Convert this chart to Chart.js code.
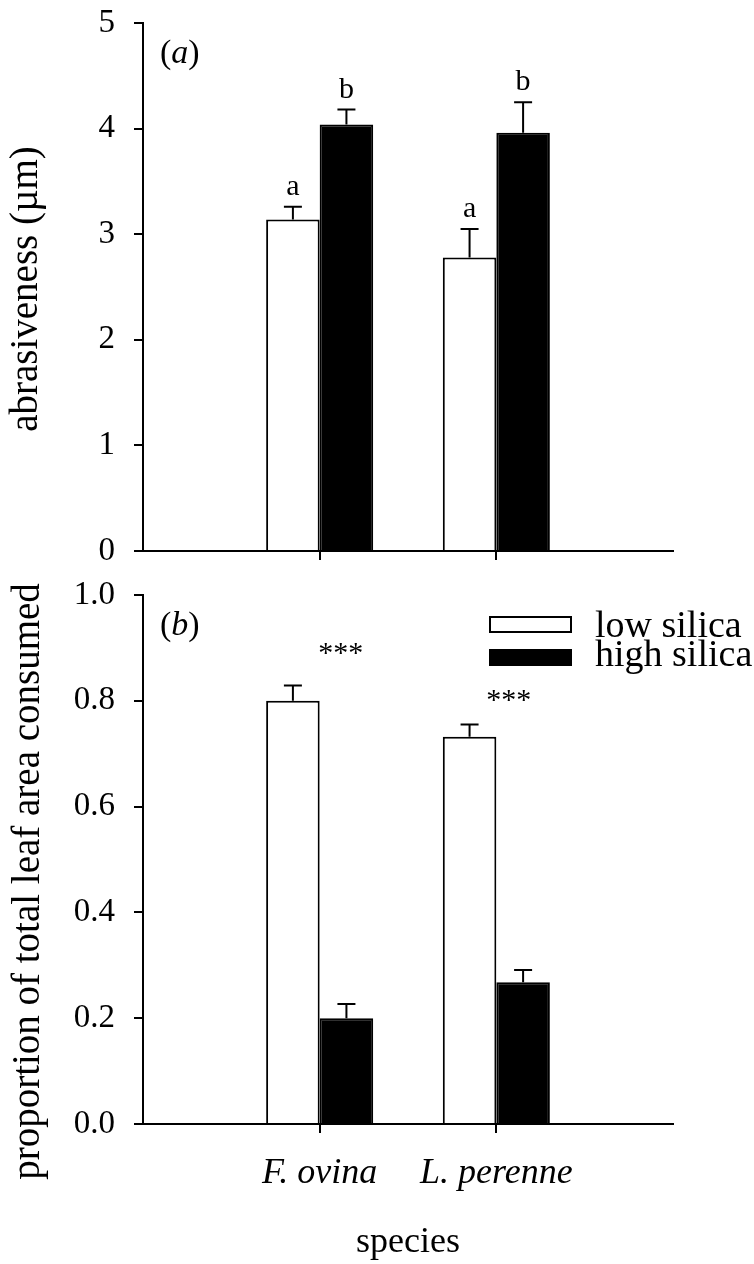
<!DOCTYPE html>
<html>
<head>
<meta charset="utf-8">
<script src="https://cdn.jsdelivr.net/npm/chart.js@4.4.0/dist/chart.umd.min.js"></script>
<style>
  html, body { margin: 0; padding: 0; background: #fff; }
  #wrap { position: relative; width: 754px; height: 1264px; overflow: hidden; }
  canvas { position: absolute; left: 0; }
  #top-chart { top: 0; }
  #bottom-chart { top: 570px; }
</style>
</head>
<body>
<div id="wrap">
  <canvas id="top-chart" width="754" height="580"></canvas>
  <canvas id="bottom-chart" width="754" height="694"></canvas>
</div>
<script>
// empty slots at both ends give the wide margins left and right of the two groups
const species = ['', 'F. ovina', 'L. perenne', ''];
const seriesNames = ['low silica', 'high silica'];

// panel (a) abrasiveness
const abrasLow = [null, 3.14, 2.78, null];
const abrasHigh = [null, 4.04, 3.96, null];
const abrasLowErr = [null, 0.12, 0.27, null];
const abrasHighErr = [null, 0.14, 0.29, null];
const abrasLowLetters = [null, 'a', 'a', null];
const abrasHighLetters = [null, 'b', 'b', null];

// panel (b) proportion consumed
const consumedLow = [null, 0.80, 0.732, null];
const consumedHigh = [null, 0.20, 0.268, null];
const consumedLowErr = [null, 0.029, 0.023, null];
const consumedHighErr = [null, 0.027, 0.023, null];
const starText = ['***', '***'];
const starX = [1.12, 2.07];   // in category units
const starY = [0.874, 0.784];

const SERIF = '"Liberation Serif", "Times New Roman", serif';
Chart.defaults.font.family = SERIF;
Chart.defaults.color = '#000';

/**
 * error bars (upper only) plus the letters over them
 */
const errorBars = {
  id: 'errorBars',
  afterDatasetsDraw(chart) {
    const ctx = chart.ctx;
    const y = chart.scales.y;
    ctx.save();
    ctx.strokeStyle = '#000';
    ctx.fillStyle = '#000';
    ctx.lineWidth = 2;
    ctx.textAlign = 'center';
    ctx.textBaseline = 'alphabetic';
    ctx.font = '30px ' + SERIF;
    chart.data.datasets.forEach((ds, i) => {
      chart.getDatasetMeta(i).data.forEach((bar, j) => {
        const v = ds.data[j];
        if (v == null) return;
        const top = y.getPixelForValue(v + ds.errors[j]);
        ctx.beginPath();
        ctx.moveTo(bar.x, y.getPixelForValue(v));
        ctx.lineTo(bar.x, top);
        ctx.moveTo(bar.x - 9, top);
        ctx.lineTo(bar.x + 9, top);
        ctx.stroke();
        if (ds.letters && ds.letters[j]) {
          ctx.fillText(ds.letters[j], bar.x, top - 12);
        }
      });
    });
    ctx.restore();
  }
};

// "(a)" / "(b)" with the letter in italics, and the rotated y title
const panelLabel = {
  id: 'panelLabel',
  afterDraw(chart, args, opts) {
    const ctx = chart.ctx;
    const area = chart.chartArea;
    let x = area.left + 17;
    const y = area.top + 40;
    ctx.save();
    ctx.fillStyle = '#000';
    ctx.textBaseline = 'alphabetic';
    ctx.textAlign = 'left';
    const parts = [['(', ''], [opts.letter, 'italic '], [')', '']];
    parts.forEach(([t, style]) => {
      ctx.font = style + '34px ' + SERIF;
      ctx.fillText(t, x, y);
      x += ctx.measureText(t).width;
    });

    // y title: not quite centred on the axis in the original
    ctx.translate(opts.titleX, (area.top + area.bottom) / 2 + opts.titleShift);
    ctx.rotate(-Math.PI / 2);
    ctx.font = '39px ' + SERIF;
    ctx.textAlign = 'center';
    ctx.textBaseline = 'middle';
    ctx.fillText(opts.title, 0, 0);
    ctx.restore();
  }
};

// legend inside the plot area, plus the *** marks
const boxLegend = {
  id: 'boxLegend',
  afterDraw(chart) {
    const ctx = chart.ctx;
    const area = chart.chartArea;
    const x0 = area.right - 183;
    ctx.save();
    chart.data.datasets.forEach((ds, i) => {
      const by = area.top + 22 + i * 33;
      ctx.fillStyle = ds.backgroundColor;
      ctx.fillRect(x0, by, 81, 15);
      ctx.strokeStyle = '#000';
      ctx.lineWidth = 2;
      ctx.strokeRect(x0, by, 81, 15);
      ctx.fillStyle = '#000';
      ctx.font = '38px ' + SERIF;
      ctx.textAlign = 'left';
      ctx.textBaseline = 'alphabetic';
      ctx.fillText(ds.label, x0 + 105, area.top + 42 + i * 29);
    });
    const xs = chart.scales.x, ys = chart.scales.y;
    ctx.font = '30px ' + SERIF;
    ctx.textAlign = 'center';
    starText.forEach((t, k) => {
      ctx.fillText(t, xs.getPixelForValue(starX[k]), ys.getPixelForValue(starY[k]));
    });
    ctx.restore();
  }
};

function xTickColor(c) {
  return (c.index === 1 || c.index === 2) ? '#000' : 'rgba(0,0,0,0)';
}

function makeOptions(opt) {
  return {
    responsive: false,
    animation: false,
    layout: { padding: { top: opt.padTop, right: 81, left: 0, bottom: 0 } },
    plugins: {
      legend: { display: false },
      tooltip: { enabled: false },
      panelLabel: { letter: opt.letter, title: opt.yTitle, titleX: opt.titleX, titleShift: opt.titleShift }
    },
    scales: {
      x: {
        type: 'category',
        offset: false,
        grid: { offset: false, drawOnChartArea: false, tickLength: 9, lineWidth: 2, color: xTickColor },
        border: { color: '#000', width: 2 },
        ticks: {
          display: opt.showX,
          autoSkip: false,
          maxRotation: 0,
          padding: 19,
          font: { size: 36, style: 'italic' }
        },
        title: {
          display: opt.showX,
          text: 'species',
          font: { size: 36 },
          padding: { top: 0, bottom: 0 }
        },
        afterFit(scale) {
          scale.height = opt.xHeight;
          scale.paddingLeft = 0;
          scale.paddingRight = 0;
        }
      },
      y: {
        min: 0,
        max: opt.yMax,
        grid: { drawOnChartArea: false, tickLength: 9, lineWidth: 2, color: '#000' },
        border: { color: '#000', width: 2 },
        ticks: {
          stepSize: opt.step,
          padding: 19,
          font: { size: 33 },
          callback: opt.fmt
        },
        afterFit(scale) {
          // fixed axis width; no extra room for the end labels
          scale.width = 143;
          scale.paddingTop = 0;
          scale.paddingBottom = 0;
        }
      }
    }
  };
}

function makeDatasets(low, high, lowErr, highErr, lowLetters, highLetters) {
  const common = { borderColor: '#000', borderWidth: 2, categoryPercentage: 0.606, barPercentage: 1 };
  return [
    Object.assign({ label: seriesNames[0], data: low, errors: lowErr, letters: lowLetters, backgroundColor: '#ffffff' }, common),
    Object.assign({ label: seriesNames[1], data: high, errors: highErr, letters: highLetters, backgroundColor: '#000000' }, common)
  ];
}

new Chart(document.getElementById('top-chart'), {
  type: 'bar',
  data: {
    labels: species,
    datasets: makeDatasets(abrasLow, abrasHigh, abrasLowErr, abrasHighErr, abrasLowLetters, abrasHighLetters)
  },
  options: makeOptions({
    padTop: 23, letter: 'a', showX: false, xHeight: 29, titleX: 27, titleShift: 2,
    yMax: 5, step: 1, fmt: v => v, yTitle: 'abrasiveness (\u00b5m)'
  }),
  plugins: [errorBars, panelLabel]
});

new Chart(document.getElementById('bottom-chart'), {
  type: 'bar',
  data: {
    labels: species,
    datasets: makeDatasets(consumedLow, consumedHigh, consumedLowErr, consumedHighErr, null, null)
  },
  options: makeOptions({
    padTop: 25, letter: 'b', showX: true, xHeight: 140, titleX: 29, titleShift: 22,
    yMax: 1, step: 0.2, fmt: v => v.toFixed(1), yTitle: 'proportion of total leaf area consumed'
  }),
  plugins: [errorBars, panelLabel, boxLegend]
});
</script>
</body>
</html>
